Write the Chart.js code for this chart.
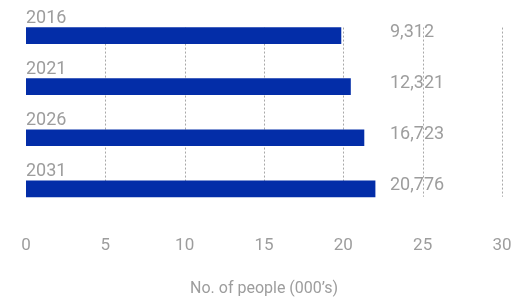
<!DOCTYPE html>
<html>
<head>
<meta charset="utf-8">
<script src="https://cdn.jsdelivr.net/npm/chart.js@4.4.1/dist/chart.umd.min.js"></script>
<style>
  html, body { margin: 0; padding: 0; background: #fff; }
  #wrap { width: 525px; height: 299px; }
</style>
</head>
<body>
<div id="wrap"><canvas id="myChart" width="525" height="299"></canvas></div>
<script>
// data
var years = ['2016', '2021', '2026', '2031']
var barLengths = [19.85, 20.45, 21.3, 22.0]   // bar ends on the x axis (000's)
var valueLabels = ['9,312', '12,321', '16,723', '20,776']
var xTicks = [0, 5, 10, 15, 20, 25, 30]
var axisTitle = 'No. of people (000\u2019s)'

var grey = '#9d9d9d'
var blue = '#032da8'

// dashed grid between the first and last bar, plus year / value labels
var extras = {
    id: 'extras',
    beforeDatasetsDraw: function (chart) {
        var c = chart.ctx
        var xs = chart.scales.x
        var meta = chart.getDatasetMeta(0)
        var first = meta.data[0], last = meta.data[meta.data.length - 1]
        var top = first.y - first.height / 2
        var bottom = last.y + last.height / 2
        c.save()
        c.strokeStyle = '#a8a8a8'
        c.lineWidth = 1
        c.setLineDash([2, 2])
        xTicks.forEach(function (t) {
            if (t === 0) return
            var x = Math.round(xs.getPixelForValue(t)) + 0.5
            c.beginPath()
            c.moveTo(x, top)
            c.lineTo(x, bottom)
            c.stroke()
        })
        c.restore()
    },
    afterDatasetsDraw: function (chart) {
        var c = chart.ctx
        var xs = chart.scales.x
        var meta = chart.getDatasetMeta(0)
        c.save()
        c.fillStyle = grey
        c.font = '18px Roboto'
        meta.data.forEach(function (bar, i) {
            var barTop = bar.y - bar.height / 2
            c.textAlign = 'left'
            c.textBaseline = 'alphabetic'
            c.fillText(years[i], xs.getPixelForValue(0), barTop - 5)
            c.textBaseline = 'middle'
            c.fillText(valueLabels[i], 390, bar.y - 3)
        })
        c.restore()
    }
}

const ctx = document.getElementById('myChart').getContext('2d')
const myChart = new Chart(ctx, {
    type: 'bar',
    data: {
        labels: years,
        datasets: [{
            data: barLengths,
            backgroundColor: blue,
            borderWidth: 0,
            barThickness: 16
        }]
    },
    options: {
        indexAxis: 'y',
        responsive: false,
        animation: false,
        events: [],
        layout: { padding: { left: 26, right: 23, top: 10, bottom: 0 } },
        plugins: {
            legend: { display: false },
            tooltip: { enabled: false }
        },
        scales: {
            x: {
                min: 0,
                max: 30,
                afterBuildTicks: function (axis) {
                    axis.ticks = xTicks.map(function (v) { return { value: v } })
                },
                afterFit: function (axis) {
                    // keep the plot edges set by layout padding only
                    axis.paddingLeft = 0
                    axis.paddingRight = 0
                },
                grid: { display: false, drawTicks: false },
                border: { display: false },
                ticks: {
                    color: grey,
                    font: { family: 'Roboto', size: 17 },
                    padding: 21,
                    maxRotation: 0
                },
                title: {
                    display: true,
                    text: axisTitle,
                    color: grey,
                    font: { family: 'Roboto', size: 16 },
                    padding: { top: 3, bottom: 0 }
                }
            },
            y: {
                display: false,
                grid: { display: false }
            }
        }
    },
    plugins: [extras]
})
</script>
</body>
</html>
